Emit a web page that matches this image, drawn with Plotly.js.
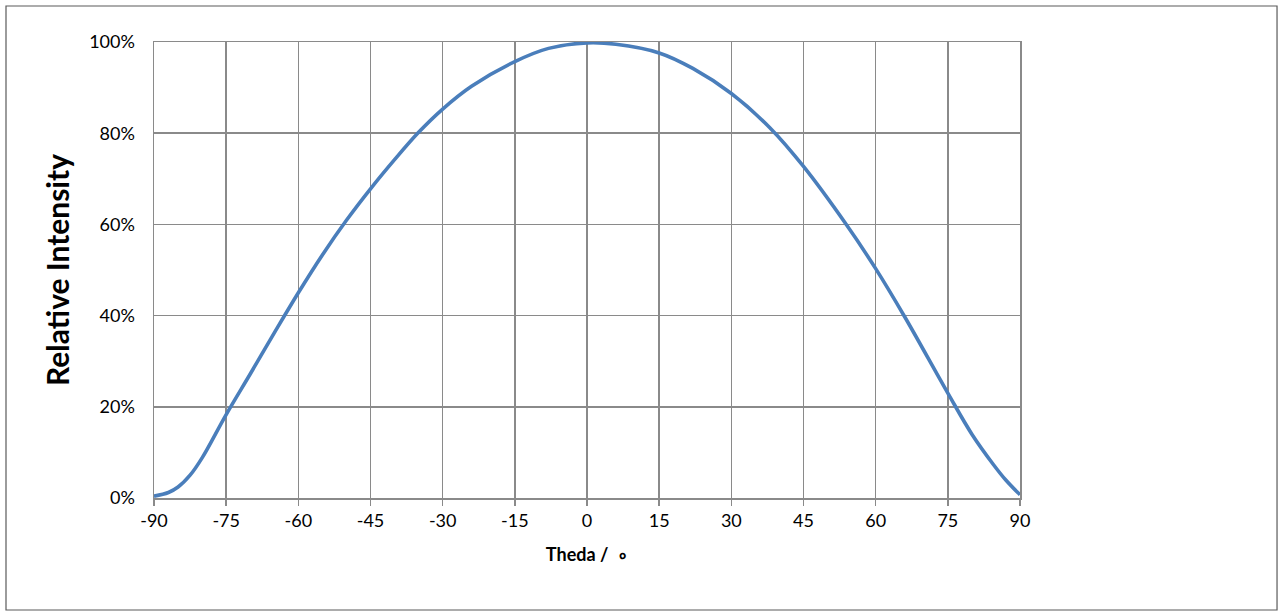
<!DOCTYPE html>
<html>
<head>
<meta charset="utf-8">
<script src="https://cdn.plot.ly/plotly-3.0.1.min.js"></script>
<style>
  html, body { margin: 0; padding: 0; background: #ffffff; }
  #chart { width: 1280px; height: 613px; }
</style>
</head>
<body>
<div id="chart"></div>
<script>
// Angle (degrees) and relative intensity (fraction of peak)
const theta = [-90, -87, -85, -82.5, -80, -75, -70, -65, -60, -55, -50, -45, -40, -35, -30, -24, -15, -8, 0, 6, 15, 22, 30, 38, 45, 54, 60, 66, 75, 80, 84.5, 87, 90];
const intensity = [0.004, 0.012, 0.024, 0.05, 0.088, 0.183, 0.272, 0.362, 0.45, 0.533, 0.609, 0.678, 0.742, 0.802, 0.853, 0.903, 0.957, 0.986, 0.998, 0.995, 0.976, 0.942, 0.887, 0.812, 0.727, 0.598, 0.503, 0.398, 0.23, 0.14, 0.073, 0.04, 0.007];
const xTicks = [-90, -75, -60, -45, -30, -15, 0, 15, 30, 45, 60, 75, 90];
const yTicks = [0, 0.2, 0.4, 0.6, 0.8, 1.0];
const xTitle = "Theda /\u00a0\u00a0\u2218";
const yTitle = "Relative Intensity";

const trace = {
  x: theta,
  y: intensity,
  type: "scatter",
  mode: "lines",
  line: { color: "#4a7ebb", width: 3.6, shape: "spline", smoothing: 1 },
  hoverinfo: "x+y"
};

const gridColor = "#8a8a8a";
const layout = {
  width: 1280,
  height: 613,
  margin: { l: 154, r: 260, t: 42, b: 115 },
  paper_bgcolor: "#ffffff",
  plot_bgcolor: "#ffffff",
  showlegend: false,
  font: { family: "Lato, 'Liberation Sans', sans-serif", size: 18, color: "#000000" },
  xaxis: {
    range: [-90, 90],
    tickvals: xTicks,
    ticktext: xTicks.map(String),
    showgrid: true,
    gridcolor: gridColor,
    gridwidth: 1.5,
    zeroline: false,
    showline: true,
    mirror: true,
    linecolor: gridColor,
    linewidth: 1.5,
    ticks: "outside",
    ticklen: 6,
    tickwidth: 1.5,
    tickcolor: gridColor,
    tickfont: { size: 18 },
    title: { text: xTitle, font: { size: 18, weight: "bold" }, standoff: 18 }
  },
  yaxis: {
    range: [0, 1],
    tickvals: yTicks,
    tickformat: ".0%",
    showgrid: true,
    gridcolor: gridColor,
    gridwidth: 1.5,
    zeroline: false,
    showline: true,
    mirror: true,
    linecolor: gridColor,
    linewidth: 1.5,
    ticks: "",
    ticklabelstandoff: 14,
    tickfont: { size: 18 },
    title: { text: yTitle, font: { size: 30, weight: "bold" }, standoff: 10 }
  },
  shapes: [{
    type: "rect", xref: "paper", yref: "paper",
    x0: -0.1709, x1: 1.2968, y0: -0.2456, y1: 1.0789,
    line: { color: "#5a5a5a", width: 1.2 },
    fillcolor: "rgba(0,0,0,0)",
    layer: "below"
  }]
};

Plotly.newPlot("chart", [trace], layout, { displayModeBar: false, staticPlot: true });
</script>
</body>
</html>
